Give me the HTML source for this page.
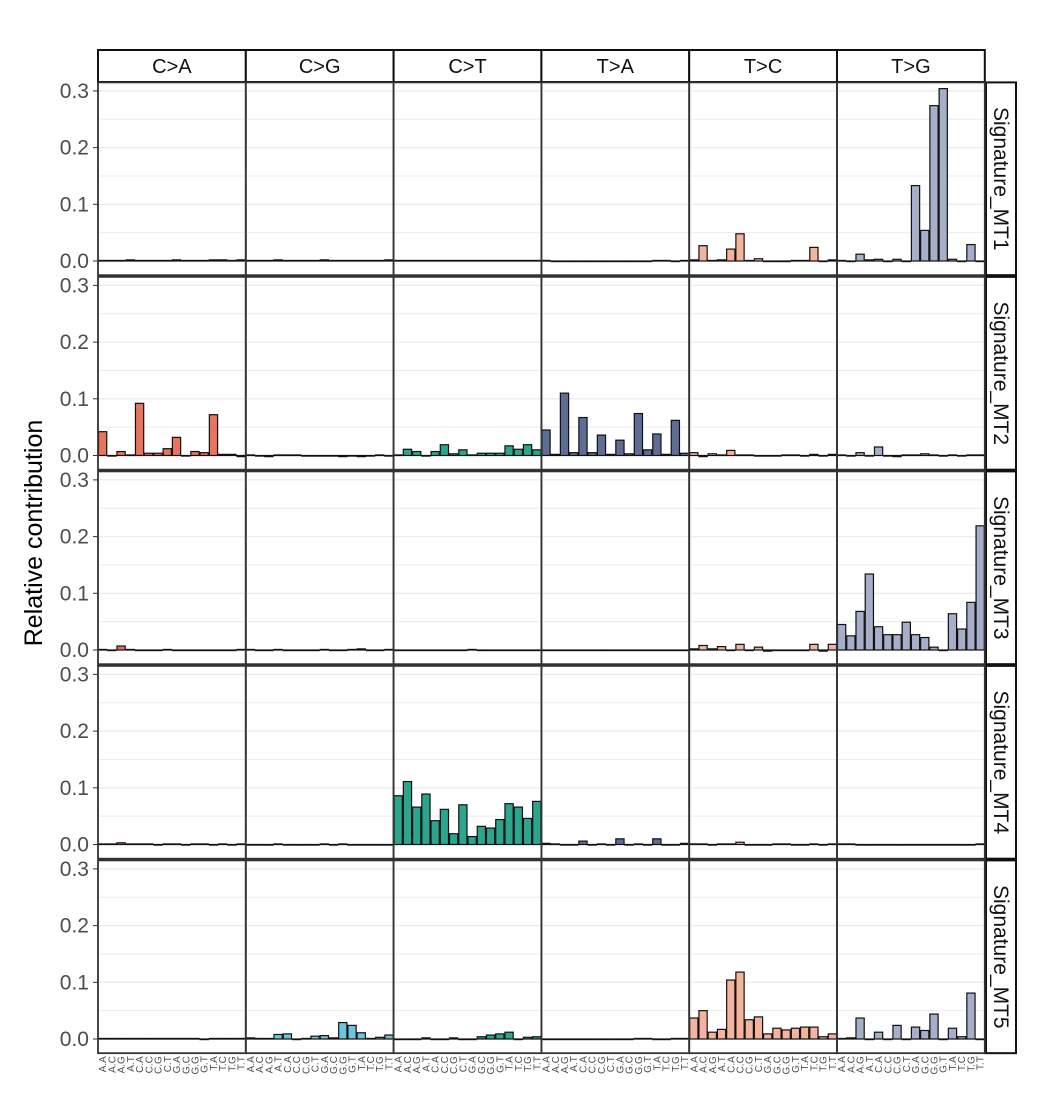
<!DOCTYPE html>
<html><head><meta charset="utf-8"><style>
html,body{margin:0;padding:0;background:#fff;}
svg{display:block;font-family:"Liberation Sans",Arial,sans-serif;}
</style></head><body>
<svg id="chart" width="1064" height="1097" viewBox="0 0 1064 1097"></svg>
<script>
const types = ["C>A","C>G","C>T","T>A","T>C","T>G"];
const contexts = ["A.A","A.C","A.G","A.T","C.A","C.C","C.G","C.T","G.A","G.C","G.G","G.T","T.A","T.C","T.G","T.T"];
const signatures = ["Signature_MT1","Signature_MT2","Signature_MT3","Signature_MT4","Signature_MT5"];
const yTicks = [0,0.1,0.2,0.3];
const yTickLabels = ["0.0","0.1","0.2","0.3"];
const colors = ["#E8735F","#6FC3DC","#2BA58C","#5E6D94","#F5B29C","#A6AFCA"];

const mt1CA=[0.001,0.001,0.001,0.002,0.001,0.001,0.001,0.001,0.002,0.001,0.001,0.001,0.002,0.002,0.001,0.002];
const mt1CG=[0.001,0.001,0.001,0.002,0.001,0.001,0.001,0.001,0.002,0.001,0.001,0.001,0.001,0.001,0.001,0.002];
const mt1CT=[0.001,0.001,0.001,0.001,0.001,0.001,0.001,0.001,0.001,0.001,0.001,0.001,0.001,0.001,0.001,0.001];
const mt1TA=[0.001,0,0,0,0,0,0,0,0,0,0,0,0.001,0.001,0,0.001];
const mt1TC=[0.002,0.027,0.001,0.002,0.021,0.048,0.001,0.004,0,0,0,0.001,0.001,0.024,0,0.002];
const mt1TG=[0.001,0,0.012,0.002,0.003,0,0.003,0,0.133,0.054,0.274,0.304,0.003,0,0.029,0];

const mt2CA=[0.042,0,0.007,0.001,0.092,0.004,0.004,0.012,0.032,0,0.007,0.005,0.072,0.002,0.002,-0.002];
const mt2CG=[0.001,0,-0.002,0.001,0.001,0.001,0,0,0,0,-0.002,0,-0.002,0,0.001,0];
const mt2CT=[0.001,0.011,0.007,0,0.007,0.019,0.003,0.01,0.001,0.004,0.004,0.004,0.017,0.011,0.019,0.01];
const mt2TA=[0.045,0.002,0.11,0.005,0.067,0.005,0.036,0.002,0.027,0.003,0.074,0.01,0.038,0.002,0.062,0.004];
const mt2TC=[0.005,-0.002,0.003,0.001,0.009,0.001,0.001,0,-0.001,0,0.001,0.001,0,0.002,0,0.002];
const mt2TG=[0.001,0,0.005,0,0.015,0,-0.002,0.001,0.001,0.003,0.001,0,0.001,0,0.001,0.001];

const mt3CA=[0.001,-0.001,0.007,0.001,-0.001,0,0,0.001,0,0,0,-0.001,0,-0.001,0,0.001];
const mt3CG=[0.001,-0.001,-0.001,0.001,0,-0.001,0,0,0.001,0,0,0.001,0.002,0,-0.001,0.001];
const mt3CT=[0,0,0,0,0,0,0,0,0.001,0,0,0,0,-0.001,-0.001,0];
const mt3TA=[0,0,0,0,0,0,0,0,0,0,-0.001,0,0,0,0,0];
const mt3TC=[0.002,0.008,0.002,0.006,-0.001,0.01,0,0.005,-0.002,0,0,-0.001,0,0.01,-0.002,0.01];
const mt3TG=[0.045,0.025,0.068,0.134,0.041,0.027,0.027,0.049,0.027,0.022,0.005,0,0.064,0.037,0.084,0.219];

const mt4CA=[0.001,0.001,0.003,0.001,0.001,0.001,0,0.001,0.001,0,0.001,0.001,0,0.001,0,0.001];
const mt4CG=[0,0,0,0.001,0,0,0,0,0.001,0,0.001,0,0,0,0,0];
const mt4CT=[0.086,0.111,0.066,0.089,0.042,0.062,0.019,0.07,0.014,0.032,0.029,0.044,0.072,0.066,0.046,0.076];
const mt4TA=[0.002,0.001,0,0,0.006,0,0.001,0,0.01,0,0.001,0,0.01,0,0,0.002];
const mt4TC=[0.001,0.001,0,0.001,0.001,0.004,0,0,0,0.001,0.001,0,0,0.001,0,0.001];
const mt4TG=[0.001,0.001,0,0,0,0,0,0,0,0,0,0,0,0,0,0.001];

const mt5CA=[0.001,0.001,0.001,0.001,0.001,0.001,0.001,0.001,0.001,0.001,0.001,0,0.001,0.001,0.001,0.001];
const mt5CG=[0.002,0.001,0.001,0.008,0.009,0,0.001,0.005,0.006,0.002,0.029,0.024,0.011,0.001,0.003,0.007];
const mt5CT=[0,0,0,0.002,0,0,0.002,0,0,0.004,0.007,0.009,0.012,0,0.003,0.004];
const mt5TA=[0,0,0,0,0,0,0,0,0,0,0.001,0.001,0,0,0.001,0.001];
const mt5TC=[0.037,0.05,0.012,0.017,0.104,0.118,0.034,0.039,0.009,0.019,0.016,0.019,0.021,0.021,0.004,0.009];
const mt5TG=[0.001,0.002,0.037,0,0.012,0,0.024,0,0.021,0.015,0.044,0,0.019,0.004,0.081,0];

const values = [
  [mt1CA,mt1CG,mt1CT,mt1TA,mt1TC,mt1TG],
  [mt2CA,mt2CG,mt2CT,mt2TA,mt2TC,mt2TG],
  [mt3CA,mt3CG,mt3CT,mt3TA,mt3TC,mt3TG],
  [mt4CA,mt4CG,mt4CT,mt4TA,mt4TC,mt4TG],
  [mt5CA,mt5CG,mt5CT,mt5TA,mt5TC,mt5TG]
];

const NS="http://www.w3.org/2000/svg";
const svg=document.getElementById('chart');
function mk(tag,attrs,parent){const e=document.createElementNS(NS,tag);for(const k in attrs)e.setAttribute(k,attrs[k]);(parent||svg).appendChild(e);return e;}

const colX0=98, colW=147.8;
const rowZero0=261, rowStep=194.5, pxPerUnit=567;
const yMax=0.315, yMin=-0.025;
function xScale(col,i){return colX0+col*colW+i*colW/contexts.length;}
function yScale(row,v){return rowZero0+row*rowStep - v*pxPerUnit;}

const yt=mk('text',{x:42,y:533,'font-size':25,fill:'#000','text-anchor':'middle',transform:'rotate(-90 42 533)'});


yt.textContent='Relative contribution';

types.forEach((t,c)=>{
  const g=mk('g',{});
  
  
  mk('rect',{x:xScale(c,0),y:50,width:colW,height:32,fill:'#fff',stroke:'#111','stroke-width':2},g);
  const tx=mk('text',{x:xScale(c,0)+colW/2,y:73,'font-size':20,'text-anchor':'middle',fill:'#111'},g);
  tx.textContent=t;
});

signatures.forEach((sig,r)=>{
  const top=yScale(r,yMax), bot=yScale(r,yMin);
  const rs=mk('g',{});
  
  
  mk('rect',{x:986,y:top,width:30,height:bot-top,fill:'#fff',stroke:'#111','stroke-width':2},rs);
  const cy=(top+bot)/2;
  const rt=mk('text',{x:994,y:cy,'font-size':21,'text-anchor':'middle',fill:'#111',transform:`rotate(90 994 ${cy})`},rs);
  rt.textContent=sig;
  yTicks.forEach((v,k)=>{
    const y=yScale(r,v);
    const tl=mk('text',{x:89,y:y+7,'font-size':21,'text-anchor':'end',fill:'#4d4d4d'});
    
    
    tl.textContent=yTickLabels[k];
    mk('line',{x1:93,x2:98,y1:y,y2:y,stroke:'#333','stroke-width':1});
  });
  types.forEach((t,c)=>{
    const g=mk('g',{});
    
    
    const x0=xScale(c,0);
    for(let k=0;k<=6;k++){
      const y=yScale(r,k*0.05);
      mk('line',{x1:x0,x2:x0+colW,y1:y,y2:y,stroke:'#ebebeb','stroke-width':k%2==0?1.3:1},g);
    }
    const arr=values[r][c];
    arr.forEach((v,i)=>{
      const xa=xScale(c,i), xb=xScale(c,i+1);
      const y0=yScale(r,0), y1=yScale(r,v);
      const b=mk('rect',{x:xa+0.5,y:Math.min(y0,y1),width:xb-xa-1,height:Math.max(Math.abs(y1-y0),0.6),fill:colors[c],stroke:'#111','stroke-width':1.2},g);
      
      
    });
    mk('rect',{x:x0,y:top,width:colW,height:bot-top,fill:'none',stroke:'#333','stroke-width':1.8},g);
  });
});

const lastBot=yScale(4,yMin);
types.forEach((t,c)=>{
  contexts.forEach((ctx,i)=>{
    const x=(xScale(c,i)+xScale(c,i+1))/2+3.5;
    const y=lastBot+3;
    const tl=mk('text',{x:x,y:y,'font-size':10,'text-anchor':'end',fill:'#4d4d4d',transform:`rotate(-90 ${x} ${y})`});
    
    
    tl.textContent=ctx;
  });
});
</script>
</body></html>
